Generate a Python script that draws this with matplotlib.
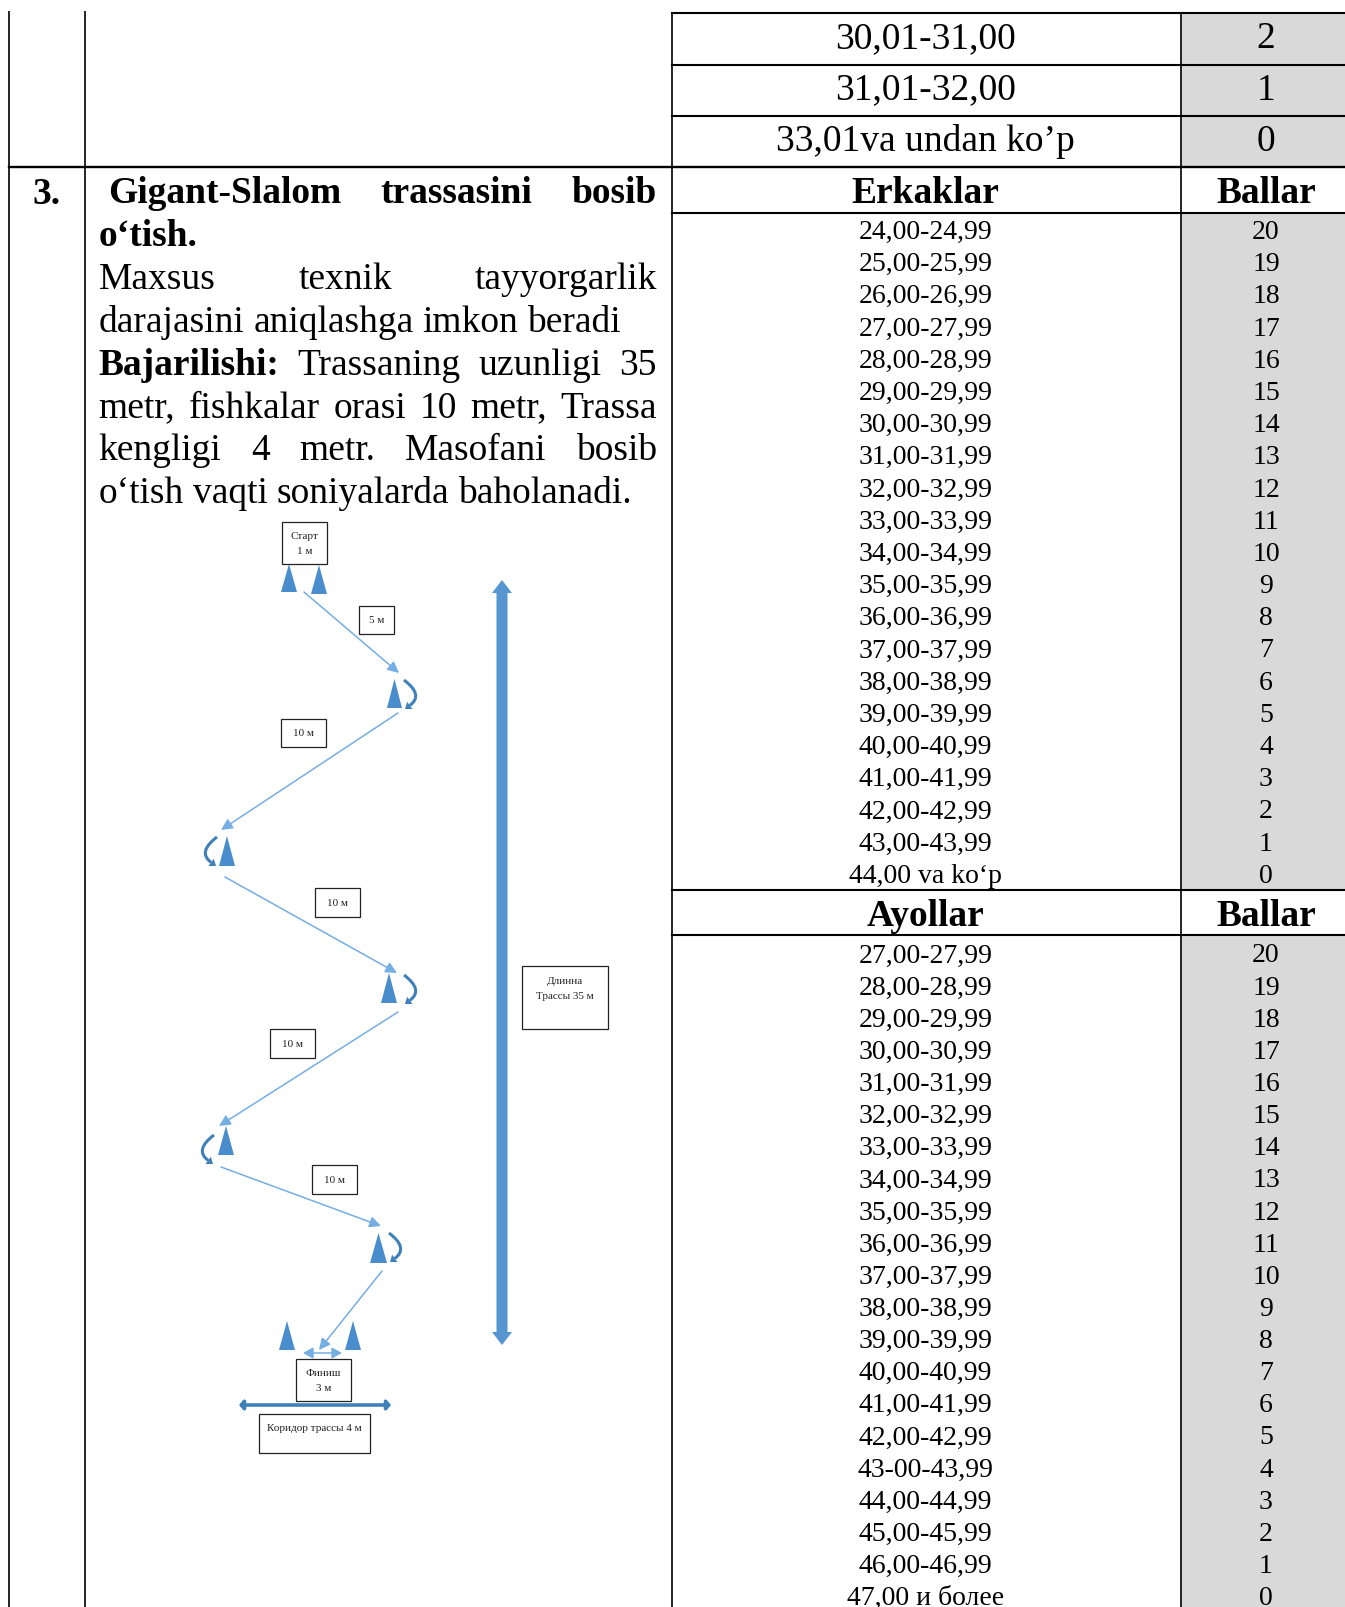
import matplotlib
matplotlib.use('Agg')
import matplotlib.pyplot as plt
import numpy as np
from matplotlib.patches import Rectangle, Polygon, FancyArrowPatch, PathPatch
from matplotlib.path import Path

plt.rcParams['font.family'] = ['Liberation Serif', 'DejaVu Sans']

# table contents
top_ranges = ['30,01-31,00', '31,01-32,00', '33,01va undan ko’p']
top_points = ['2', '1', '0']

men_ranges = ['24,00-24,99', '25,00-25,99', '26,00-26,99', '27,00-27,99', '28,00-28,99', '29,00-29,99',
              '30,00-30,99', '31,00-31,99', '32,00-32,99', '33,00-33,99', '34,00-34,99', '35,00-35,99',
              '36,00-36,99', '37,00-37,99', '38,00-38,99', '39,00-39,99', '40,00-40,99', '41,00-41,99',
              '42,00-42,99', '43,00-43,99', '44,00 va ko‘p']
women_ranges = ['27,00-27,99', '28,00-28,99', '29,00-29,99', '30,00-30,99', '31,00-31,99', '32,00-32,99',
                '33,00-33,99', '34,00-34,99', '35,00-35,99', '36,00-36,99', '37,00-37,99', '38,00-38,99',
                '39,00-39,99', '40,00-40,99', '41,00-41,99', '42,00-42,99', '43-00-43,99', '44,00-44,99',
                '45,00-45,99', '46,00-46,99', '47,00 и более']
points = ['20', '19', '18', '17', '16', '15', '14', '13', '12', '11', '10',
          '9', '8', '7', '6', '5', '4', '3', '2', '1', '0']

# left cell: each line is a list of words, words starting with * are bold
left_lines = [
    ['*Gigant-Slalom', '*trassasini', '*bosib'],
    ['*o‘tish.'],
    ['Maxsus', 'texnik', 'tayyorgarlik'],
    ['darajasini', 'aniqlashga', 'imkon', 'beradi'],
    ['*Bajarilishi:', 'Trassaning', 'uzunligi', '35'],
    ['metr,', 'fishkalar', 'orasi', '10', 'metr,', 'Trassa'],
    ['kengligi', '4', 'metr.', 'Masofani', 'bosib'],
    ['o‘tish', 'vaqti', 'soniyalarda', 'baholanadi.'],
]
left_justified = [True, False, True, False, True, True, True, False]

W, H = 1345, 1608
GREY = '#d9d9d9'
BLUE = '#4a8dcc'
LIGHT = '#74aee3'
DARK = '#3f80b8'

fig = plt.figure(figsize=(W / 100, H / 100), dpi=100)
ax = fig.add_axes([0, 0, 1, 1])
ax.set_xlim(0, W)
ax.set_ylim(H, 0)
ax.axis('off')

XA, XB, XC, XD = 9, 85, 671.5, 1181
MID = 925.5
RIGHT = 1266

# grey point column
for y0, y1 in [(14, 168), (214, 891), (936, H)]:
    ax.add_patch(Rectangle((XD, y0), W - XD, y1 - y0, color=GREY, lw=0, zorder=0))

# rules
for x, y0 in [(XA, 12), (XB, 12), (XC, 14), (XD, 14)]:
    ax.plot([x, x], [y0, H], color='black', lw=1.2, zorder=3, solid_capstyle='butt')
for y, x0, lw in [(14, XC, 1.5), (65.5, XC, 1.5), (116.5, XC, 1.5), (168, XA, 1.7),
                  (214, XC, 1.5), (891, XC, 1.5), (936, XC, 1.5)]:
    ax.plot([x0, W], [y, y], color='black', lw=lw, zorder=3)

# top rows
for i in range(3):
    base = 48 + i * 51.5
    ax.text(MID, base, top_ranges[i], ha='center', va='baseline', fontsize=27)
    ax.text(RIGHT, base, top_points[i], ha='center', va='baseline', fontsize=27)

# headers
ax.text(46, 204, '3.', ha='center', va='baseline', fontsize=27, fontweight='bold')
ax.text(MID, 203, 'Erkaklar', ha='center', va='baseline', fontsize=27, fontweight='bold')
ax.text(RIGHT, 203, 'Ballar', ha='center', va='baseline', fontsize=27, fontweight='bold')
ax.text(MID, 926, 'Ayollar', ha='center', va='baseline', fontsize=27, fontweight='bold')
ax.text(RIGHT, 926, 'Ballar', ha='center', va='baseline', fontsize=27, fontweight='bold')

# score rows
for i in range(21):
    base = 239 + i * 32.19
    ax.text(MID, base, men_ranges[i], ha='center', va='baseline', fontsize=20)
    ax.text(RIGHT, base, points[i], ha='center', va='baseline', fontsize=20)
    base = 962.5 + i * 32.13
    ax.text(MID, base, women_ranges[i], ha='center', va='baseline', fontsize=20)
    ax.text(RIGHT, base, points[i], ha='center', va='baseline', fontsize=20)

# justified left text
renderer = fig.canvas.get_renderer()


def word_width(word, bold):
    t = ax.text(0, 0, word, fontsize=27, fontweight='bold' if bold else 'normal')
    w = t.get_window_extent(renderer).width
    t.remove()
    return w


for i, line in enumerate(left_lines):
    words = [w.lstrip('*') for w in line]
    bold = [w.startswith('*') for w in line]
    widths = [word_width(w, b) for w, b in zip(words, bold)]
    x = 108 if i == 0 else 98.5
    if left_justified[i] and len(words) > 1:
        gap = (657 - x - sum(widths)) / (len(words) - 1)
    else:
        gap = 9
    base = 203 + i * 42.9
    for w, b, ww in zip(words, bold, widths):
        ax.text(x, base, w, ha='left', va='baseline', fontsize=27, fontweight='bold' if b else 'normal')
        x += ww + gap

# diagram: labelled boxes
boxes = [
    (282, 523, 327, 565, 'Старт\n1 м'),
    (359, 607, 394, 635, '5 м'),
    (281, 720, 326, 748, '10 м'),
    (315, 889, 360, 918, '10 м'),
    (522, 967, 608, 1030, 'Длинна\nТрассы 35 м'),
    (270, 1030, 315, 1059, '10 м'),
    (312, 1166, 357, 1195, '10 м'),
    (296, 1360, 351, 1402, 'Финиш\n3 м'),
    (259, 1415, 370, 1454, 'Коридор трассы 4 м'),
]
for x0, y0, x1, y1, label in boxes:
    ax.add_patch(Rectangle((x0, y0), x1 - x0, y1 - y0, fc='white', ec='#222222', lw=0.9, zorder=4))
    ty = (y0 + y1) / 2
    if label.startswith('Длинна'):
        ty = 989
    if label.startswith('Коридор'):
        ty = 1429
    ax.text((x0 + x1) / 2, ty, label, ha='center', va='center', fontsize=8, linespacing=1.8,
            color='#222222', zorder=5)

# cones: left, right, base y, apex y
cones = [
    (281, 297, 593, 565), (311, 327, 595, 566), (387, 402, 709, 680), (219, 235, 867, 837),
    (381, 397, 1004, 974), (218, 234, 1156, 1127), (370, 387, 1264, 1234),
    (279, 295, 1351, 1322), (345, 361, 1351, 1322),
]
for x0, x1, yb, ya in cones:
    ax.add_patch(Polygon([(x0, yb), (x1, yb), ((x0 + x1) / 2, ya)], closed=True, fc=BLUE, ec='none'))

# thin route arrows
routes = [
    ((304, 593), (399, 674)), ((398, 714), (221, 831)), ((225, 878), (397, 974)),
    ((398, 1013), (219, 1127)), ((221, 1168), (381, 1227)), ((382, 1272), (319, 1351)),
]
for a, b in routes:
    ax.add_patch(FancyArrowPatch(a, b, arrowstyle='-|>,head_length=4.5,head_width=2.2', lw=1.1,
                                 color=LIGHT, shrinkA=0, shrinkB=0, mutation_scale=1.5))
ax.add_patch(FancyArrowPatch((303, 1354), (342, 1354), arrowstyle='<|-|>,head_length=4,head_width=2.2', lw=1.1,
                             color=LIGHT, shrinkA=0, shrinkB=0, mutation_scale=1.5))
ax.add_patch(FancyArrowPatch((239, 1406), (391, 1406), arrowstyle='<|-|>,head_length=1.5,head_width=1.8', lw=2.6,
                             color=DARK, shrinkA=0, shrinkB=0, mutation_scale=1.5, zorder=3))

# curved turn arrows: start, end, control point
turns = [
    ((404, 681), (405, 710), (424, 696)), ((217, 838), (216, 867), (197, 853)),
    ((404, 976), (405, 1005), (424, 991)), ((214, 1136), (213, 1165), (194, 1151)),
    ((389, 1234), (390, 1263), (409, 1249)),
]
for a, b, c in turns:
    a, b, c = np.array(a, float), np.array(b, float), np.array(c, float)
    d = (b - c) / np.hypot(*(b - c))
    n = np.array([-d[1], d[0]])
    neck = b - d * 6
    ax.add_patch(PathPatch(Path([a, c, neck], [Path.MOVETO, Path.CURVE3, Path.CURVE3]), fc='none', ec=DARK, lw=2.2))
    ax.add_patch(Polygon([b, neck + n * 4.5, neck - n * 4.5], closed=True, fc=DARK, ec='none'))

# long double arrow at the side of the track
sx, top, bot = 502, 581, 1346
ax.add_patch(Polygon([(sx, top), (sx + 10, top + 13), (sx + 5.5, top + 13), (sx + 5.5, bot - 13), (sx + 10, bot - 13),
                      (sx, bot), (sx - 10, bot - 13), (sx - 5.5, bot - 13), (sx - 5.5, top + 13), (sx - 10, top + 13)],
                     closed=True, fc='#5595d0', ec='none'))

fig.savefig('out.png', dpi=100)
